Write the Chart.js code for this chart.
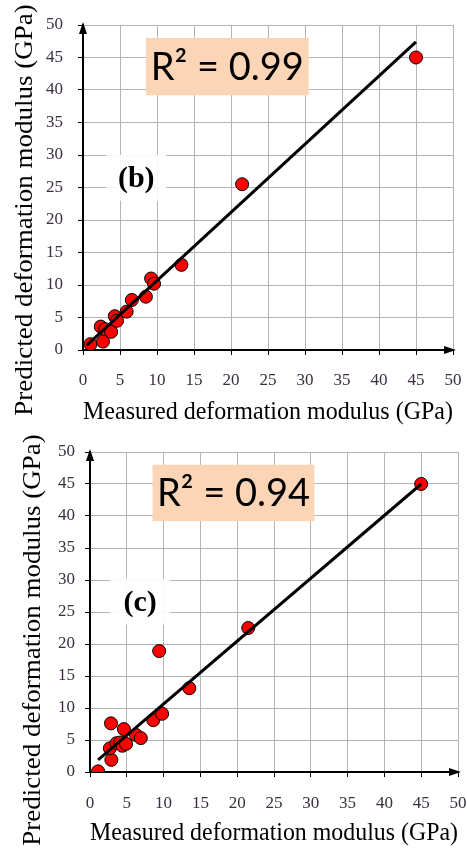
<!DOCTYPE html>
<html><head><meta charset="utf-8">
<script src="https://cdn.jsdelivr.net/npm/chart.js@4.4.1/dist/chart.umd.min.js"></script>
<style>
html,body{margin:0;padding:0;background:#fff;}
.box{position:relative;width:467px;height:425px;}
</style></head><body>
<div class="box"><canvas id="c1"></canvas></div>
<div class="box"><canvas id="c2"></canvas></div>
<script>
// ---- data ----
const ticksXY = [0,5,10,15,20,25,30,35,40,45,50];
const measuredB  = [1.0, 2.7, 2.4, 3.0, 3.8, 4.3, 4.6, 5.9, 6.6, 8.5, 9.2, 9.6, 13.3, 21.5, 45.0];
const predictedB = [0.9, 1.3, 3.6, 3.2, 2.8, 5.2, 4.5, 5.9, 7.7, 8.2, 11.0, 10.2, 13.1, 25.5, 45.0];
const fitLineBX = [0.5, 45];
const fitLineBY = [0.7, 47.4];
const r2B = "R\u00B2 = 0.99";
const labelB = "(b)";

const measuredC  = [1.1, 2.85, 2.9, 2.7, 3.6, 4.1, 4.6, 4.4, 4.9, 6.25, 6.9, 8.6, 9.8, 13.5, 9.4, 21.5, 45.0];
const predictedC = [0.1, 7.6, 1.9, 3.7, 4.5, 4.6, 6.7, 4.1, 4.4, 5.8, 5.3, 8.1, 9.1, 13.1, 18.9, 22.5, 45.0];
const fitLineCX = [1.1, 45];
const fitLineCY = [1.9, 45];
const r2C = "R\u00B2 = 0.94";
const labelC = "(c)";

const xTitle = "Measured deformation modulus (GPa)";
const yTitle = "Predicted deformation modulus (GPa)";

const SERIF = '"Liberation Serif", "Times New Roman", serif';

function pts(xs, ys){ return xs.map((x,i)=>({x:x,y:ys[i]})); }

const decor = {
  id:'decor',
  afterDraw(chart, args, o){
    const {ctx, chartArea:a, scales:{x, y}} = chart;
    ctx.save();
    // arrows
    ctx.fillStyle = '#000';
    ctx.beginPath();
    ctx.moveTo(a.left, a.top - 3);
    ctx.lineTo(a.left - 4, a.top + 9);
    ctx.lineTo(a.left + 4, a.top + 9);
    ctx.closePath(); ctx.fill();
    ctx.beginPath();
    ctx.moveTo(a.right + 3, a.bottom);
    ctx.lineTo(a.right - 9, a.bottom - 4);
    ctx.lineTo(a.right - 9, a.bottom + 4);
    ctx.closePath(); ctx.fill();
    // R2 box
    const bx0 = x.getPixelForValue(8.5), bx1 = x.getPixelForValue(30.5);
    const by0 = y.getPixelForValue(48), by1 = y.getPixelForValue(39.2);
    ctx.fillStyle = '#FBD5B5';
    ctx.fillRect(bx0, by0, bx1-bx0, by1-by0);
    ctx.fillStyle = '#000';
    ctx.font = '38px Lato, "Open Sans", sans-serif';
    ctx.textAlign = 'center'; ctx.textBaseline = 'middle';
    ctx.fillText(o.r2, (bx0+bx1)/2, (by0+by1)/2 + 1);
    // panel label
    const lx = x.getPixelForValue(o.lx), ly = y.getPixelForValue(o.ly);
    ctx.fillStyle = 'rgba(255,255,255,0.9)';
    ctx.fillRect(lx-30, ly-23, 60, 46);
    ctx.fillStyle = '#000';
    ctx.font = 'bold 30px ' + SERIF;
    ctx.fillText(o.label, lx, ly + 1);
    // y axis title
    ctx.translate(o.ytx, o.yty);
    ctx.rotate(-Math.PI/2);
    ctx.scale(1.08, 1);
    ctx.font = '25px ' + SERIF;
    ctx.fillStyle = '#000';
    ctx.fillText(yTitle, 0, 0);
    ctx.restore();
  }
};

function makeChart(id, mx, py, lx, ly, r2, label, lay){
  return new Chart(document.getElementById(id), {
    type:'scatter',
    data:{ datasets:[
      { type:'line', data: pts(lx, ly), borderColor:'#000', borderWidth:3, pointRadius:0, fill:false, showLine:true },
      { data: pts(mx, py), backgroundColor:'#FF0000', borderColor:'#000', borderWidth:1, pointRadius:6.5, pointHoverRadius:6.5 }
    ]},
    options:{
      responsive:true, maintainAspectRatio:false, animation:false,
      layout:{ padding:{ left:0, top:lay.top, right:lay.right, bottom:0 } },
      plugins:{ legend:{display:false}, tooltip:{enabled:false},
        decor:{ r2:r2, label:label.t, lx:label.x, ly:label.y, ytx:lay.ytx, yty:lay.yty } },
      scales:{
        x:{ type:'linear', min:0, max:50,
          afterBuildTicks(s){ s.ticks = ticksXY.map(v=>({value:v})); },
          afterFit(s){ s.height = lay.xh; s.paddingLeft = 0; s.paddingRight = 0; },
          grid:{ color:'#b4b4b4', lineWidth:1, tickColor:'#000', tickLength:5, drawTicks:true },
          border:{ color:'#000', width:2 },
          ticks:{ color:'#3b2f3f', padding:lay.xtp, maxRotation:0, font:{family:SERIF, size:17} },
          title:{ display:true, text:xTitle, color:'#000', padding:{top:0,bottom:lay.xtb}, font:{family:SERIF, size:24.5, lineHeight:1} } },
        y:{ type:'linear', min:0, max:50,
          afterBuildTicks(s){ s.ticks = ticksXY.map(v=>({value:v})); },
          afterFit(s){ s.width = lay.yw; s.paddingTop = 0; s.paddingBottom = 0; },
          grid:{ color:'#b4b4b4', lineWidth:1, tickColor:'#000', tickLength:5, drawTicks:true },
          border:{ color:'#000', width:2 },
          ticks:{ color:'#3b2f3f', padding:lay.ytp, font:{family:SERIF, size:17} },
          title:{ display:false } }
      }
    },
    plugins:[decor]
  });
}

makeChart('c1', measuredB, predictedB, fitLineBX, fitLineBY, r2B, {t:labelB, x:7.2, y:26.5},
  {top:25, right:14, xh:75, yw:83, xtp:15, ytp:15, xtb:0, ytx:25, yty:210});
makeChart('c2', measuredC, predictedC, fitLineCX, fitLineCY, r2C, {t:labelC, x:6.8, y:26.6},
  {top:27, right:9, xh:78, yw:90, xtp:16, ytp:10, xtb:4, ytx:33, yty:215});
</script>
</body></html>
